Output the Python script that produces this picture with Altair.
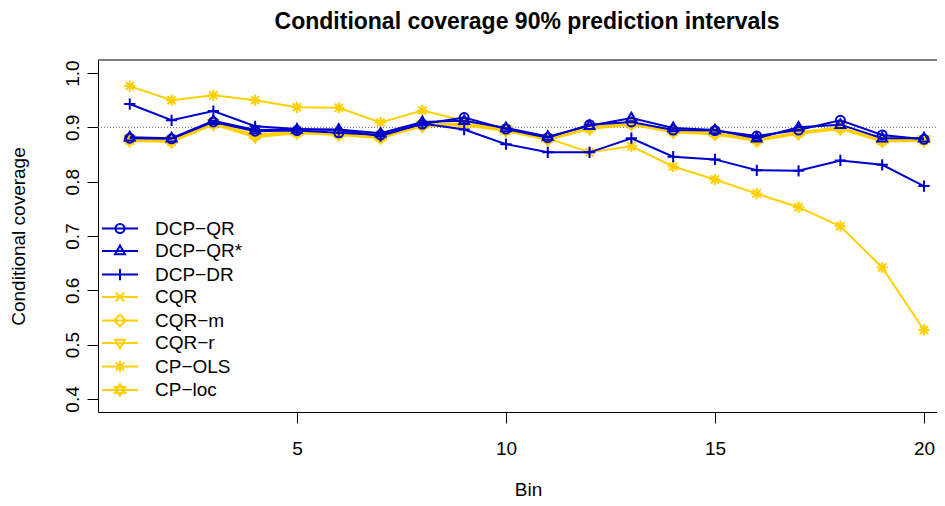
import altair as alt
import pandas as pd

bins = list(range(1, 21))
series_names = ["DCP−QR", "DCP−QR*", "DCP−DR", "CQR", "CQR−m", "CQR−r", "CP−OLS", "CP−loc"]
series_colors = ["#0000CD", "#0000CD", "#0000CD", "#FFD000", "#FFD000", "#FFD000", "#FFD000", "#FFD000"]

dcp_qr = [0.880, 0.879, 0.910, 0.893, 0.894, 0.890, 0.886, 0.906, 0.918, 0.897,
          0.881, 0.905, 0.910, 0.895, 0.894, 0.884, 0.895, 0.913, 0.886, 0.878]
dcp_qr_star = [0.882, 0.880, 0.912, 0.895, 0.896, 0.896, 0.889, 0.910, 0.912, 0.899,
               0.883, 0.903, 0.917, 0.899, 0.895, 0.880, 0.900, 0.905, 0.880, 0.880]
dcp_dr = [0.943, 0.913, 0.930, 0.902, 0.897, 0.895, 0.884, 0.907, 0.896, 0.869,
          0.854, 0.854, 0.880, 0.846, 0.841, 0.821, 0.820, 0.839, 0.831, 0.792]
cqr = [0.876, 0.874, 0.906, 0.885, 0.890, 0.887, 0.882, 0.904, 0.906, 0.894,
       0.879, 0.898, 0.906, 0.892, 0.889, 0.877, 0.890, 0.899, 0.875, 0.876]
cqr_m = [0.878, 0.876, 0.907, 0.884, 0.891, 0.888, 0.881, 0.903, 0.905, 0.895,
         0.878, 0.899, 0.907, 0.893, 0.888, 0.876, 0.889, 0.898, 0.876, 0.877]
cqr_r = [0.875, 0.873, 0.905, 0.882, 0.889, 0.886, 0.880, 0.902, 0.904, 0.893,
         0.877, 0.897, 0.905, 0.891, 0.887, 0.875, 0.888, 0.897, 0.874, 0.875]
cp_ols = [0.976, 0.950, 0.959, 0.950, 0.937, 0.936, 0.909, 0.931, 0.912, 0.898,
          0.880, 0.854, 0.865, 0.828, 0.804, 0.778, 0.753, 0.718, 0.642, 0.527]
cp_loc = [0.879, 0.877, 0.908, 0.887, 0.892, 0.889, 0.883, 0.905, 0.907, 0.896,
          0.880, 0.900, 0.908, 0.894, 0.890, 0.878, 0.891, 0.900, 0.877, 0.878]

y_ticks = [0.4, 0.5, 0.6, 0.7, 0.8, 0.9, 1.0]
x_ticks = [5, 10, 15, 20]
target = 0.9
title_text = "Conditional coverage 90% prediction intervals"

# marker shapes (R pch 1,2,3,4,5,6,8,11) in unit coordinates
markers = {
    "DCP−QR": "M1,0A1,1,0,1,1,-1,0A1,1,0,1,1,1,0Z",
    "DCP−QR*": "M0,-1.2L1.1,0.72L-1.1,0.72Z",
    "DCP−DR": "M-1.25,0L1.25,0M0,-1.25L0,1.25",
    "CQR": "M-0.95,-0.95L0.95,0.95M-0.95,0.95L0.95,-0.95",
    "CQR−m": "M0,-1.3L1.3,0L0,1.3L-1.3,0Z",
    "CQR−r": "M0,1.2L1.1,-0.72L-1.1,-0.72Z",
    "CP−OLS": "M-1.25,0L1.25,0M0,-1.25L0,1.25M-0.9,-0.9L0.9,0.9M-0.9,0.9L0.9,-0.9",
    "CP−loc": "M0,-1.3L1.15,0.66L-1.15,0.66ZM0,1.3L1.15,-0.66L-1.15,-0.66Z",
}
legend_shapes = ["M-4,0L4,0" + markers[s] for s in series_names]
groups = {s: ("blue" if c == "#0000CD" else "gold") for s, c in zip(series_names, series_colors)}

values = [dcp_qr, dcp_qr_star, dcp_dr, cqr, cqr_m, cqr_r, cp_ols, cp_loc]
rows = []
for name, vals in zip(series_names, values):
    for b, v in zip(bins, vals):
        rows.append({"bin": b, "value": v, "series": name,
                     "marker": markers[name], "group": groups[name]})
df = pd.DataFrame(rows)

FONT = "Liberation Sans"
W, H = 839, 352

x_enc = alt.X("bin:Q", scale=alt.Scale(domain=[0.24, 0.24 + W / 41.8], nice=False, zero=False),
              axis=alt.Axis(values=x_ticks, title="Bin", domain=True, domainColor="black",
                            domainWidth=1, grid=False,
                            tickSize=11, tickColor="black", labelPadding=16,
                            labelFontSize=19, labelFont=FONT, labelColor="black",
                            labelFlush=False, titleFontSize=19, titleFont=FONT,
                            titleFontWeight="normal", titleColor="black",
                            titleX=430, titleY=77, titleBaseline="middle"))
y_enc = alt.Y("value:Q", scale=alt.Scale(domain=[0.376, 1.024], nice=False, zero=False),
              axis=alt.Axis(values=y_ticks, format=".1f", title="Conditional coverage",
                            domain=True, domainColor="black", domainWidth=1,
                            grid=False, tickSize=11, tickColor="black",
                            labelAngle=270, labelAlign="center", labelBaseline="bottom",
                            labelPadding=5, labelFontSize=19, labelFont=FONT,
                            labelColor="black", labelFlush=False,
                            titleFontSize=19, titleFont=FONT, titleFontWeight="normal",
                            titleColor="black", titleX=-80, titleBaseline="middle",
                            titleAngle=270))

leg = alt.Legend(title=None, orient="none", legendX=12.5, legendY=159,
                 labelFontSize=19, labelFont=FONT, labelColor="black",
                 symbolSize=81, symbolStrokeWidth=2, labelOffset=25.5,
                 rowPadding=2.5, padding=0, symbolFillColor="transparent")

color_enc = alt.Color("series:N", scale=alt.Scale(domain=series_names, range=series_colors),
                      legend=leg)

base = alt.Chart(df)

rule = alt.Chart(pd.DataFrame({"t": [target]})).mark_rule(
    color="#666666", strokeDash=[1, 2], strokeWidth=1).encode(
    y=alt.Y("t:Q"), x=alt.value(0), x2=alt.value(W + 10))

top_border = alt.Chart(pd.DataFrame({"t": [target]})).mark_rule(
    color="black", strokeWidth=1).encode(
    x=alt.value(0), x2=alt.value(W + 10), y=alt.value(0))

title_layer = alt.Chart(pd.DataFrame({"label": [title_text]})).mark_text(
    font=FONT, fontSize=23, fontWeight="bold", color="black",
    align="center", baseline="alphabetic").encode(
    text="label:N", x=alt.value(429), y=alt.value(-31))

layers = [rule, top_border]
for grp in ["gold", "blue"]:
    sub = base.transform_filter(alt.datum.group == grp)
    layers.append(sub.mark_line(strokeWidth=2, clip=True).encode(
        x=x_enc, y=y_enc, color=color_enc, detail="series:N"))
    layers.append(sub.mark_point(filled=False, strokeWidth=2, size=81, opacity=1, clip=True).encode(
        x=x_enc, y=y_enc, color=color_enc,
        shape=alt.Shape("marker:N", scale=None)))

proxy = base.transform_filter(alt.datum.bin < 0).mark_point(filled=False, strokeWidth=2).encode(
    x=x_enc, y=y_enc, color=color_enc,
    shape=alt.Shape("series:N", scale=alt.Scale(domain=series_names, range=legend_shapes),
                    legend=leg))
layers.append(proxy)
layers.append(title_layer)

chart = alt.layer(*layers).properties(
    width=W, height=H,
    padding={"left": 90, "top": 52, "right": 0, "bottom": 86},
    autosize=alt.AutoSizeParams(type="none"),
    background="white",
).configure_view(stroke="transparent", strokeWidth=0)

chart.save("out.html", embed_options={"renderer": "svg", "actions": False})
